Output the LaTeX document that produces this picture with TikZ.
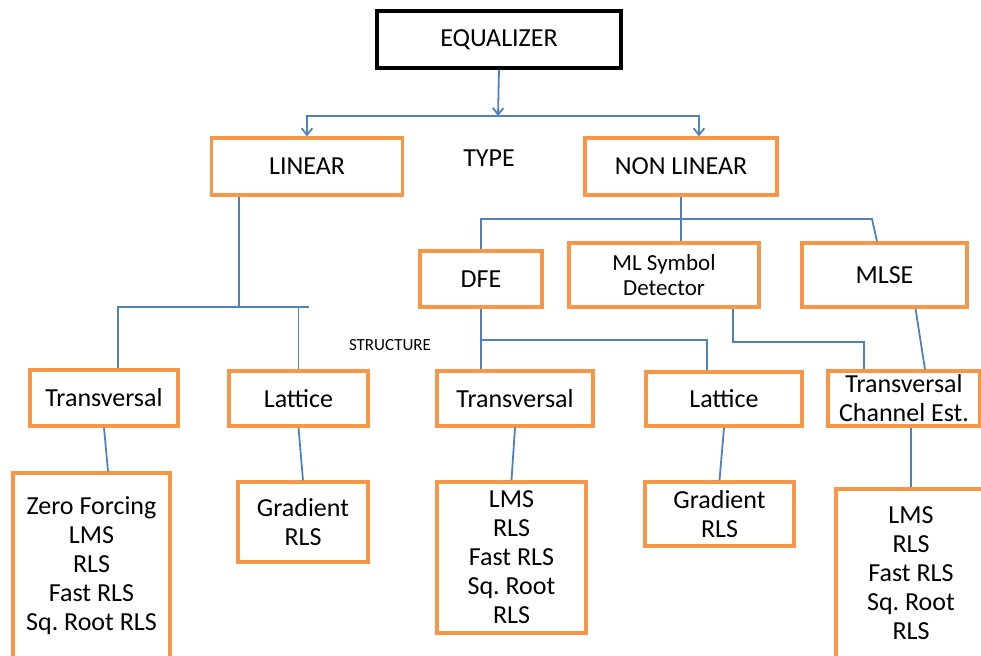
\documentclass[tikz,border=0pt]{standalone}
\usepackage{fontspec}
\setmainfont{Carlito}
\usetikzlibrary{arrows.meta,calc}
\definecolor{boxor}{HTML}{F79646}
\definecolor{lnblue}{HTML}{4F81BD}
\frenchspacing
\begin{document}
\begin{tikzpicture}[x=0.75pt,y=-0.75pt,
  boxn/.style={draw=boxor,line width=2.4pt,inner sep=0pt,align=center,font=\fontsize{19.5}{21.75}\selectfont},
  topbox/.style={boxn,draw=black},
  wh/.style 2 args={minimum width=#1*0.75pt,minimum height=#2*0.75pt},
  conn/.style={draw=lnblue,line width=1.35pt},
  arr/.style={conn,-{Straight Barb[length=5pt,width=8pt]}},
  lbl/.style={inner sep=0pt,font=\fontsize{19.5}{21.75}\selectfont}]
\useasboundingbox (0,0) rectangle (981,656);
% top levels
\node[topbox,wh={244}{57}] (eq) at (499,39.5) {EQUALIZER};
\node[boxn,wh={191}{57}] (lin) at (307,166.5) {LINEAR};
\node[lbl] (type) at (489,158) {TYPE};
\node[boxn,wh={192}{57}] (nonlin) at (681,166.5) {NON LINEAR};
\node[boxn,wh={122}{56}] (dfe) at (481,279) {DFE};
\node[boxn,wh={190}{64},font=\fontsize{17.25}{18.5}\selectfont] (mlsym) at (664,275) {ML Symbol\\Detector};
\node[boxn,wh={165}{64}] (mlse) at (884.5,275) {MLSE};
\node[lbl,font=\fontsize{12.75}{14}\selectfont] (struct) at (390,345) {STRUCTURE};
% structure level
\node[boxn,wh={148}{56}] (t1) at (104,398) {Transversal};
\node[boxn,wh={139}{55}] (l1) at (298.5,398.5) {Lattice};
\node[boxn,wh={156}{55}] (t2) at (515,398.5) {Transversal};
\node[boxn,wh={156}{54}] (l2) at (724,399) {Lattice};
\node[boxn,wh={152}{55}] (tc) at (904,398.5) {Transversal\\Channel Est.};
% algorithm level
\node[boxn,wh={157}{185}] (zf) at (91.5,565.5) {Zero Forcing\\LMS\\RLS\\Fast RLS\\Sq. Root RLS};
\node[boxn,wh={130}{80}] (g1) at (303,522) {Gradient\\RLS};
\node[boxn,wh={149}{151}] (a2) at (511.5,557.5) {LMS\\RLS\\Fast RLS\\Sq. Root\\RLS};
\node[boxn,wh={149}{64}] (g2) at (719.5,514) {Gradient\\RLS};
\node[boxn,wh={150}{169}] (a3) at (911,573.5) {LMS\\RLS\\Fast RLS\\Sq. Root\\RLS};
% connectors: type
\coordinate (j1) at (498,116);
\draw[arr] (eq.south) -- (j1);
\draw[arr] (j1) -| (lin.north);
\draw[arr] (j1) -| ($(nonlin.north)+(18,0)$);
% linear
\coordinate (j2) at (239,307);
\draw[conn] ($(lin.south)+(-68,0)$) -- (j2);
\draw[conn] (j2) -| ($(t1.north)+(14,0)$);
\draw[conn] (j2) -| (l1.north);
\coordinate (stub) at (309,307);
\draw[conn] (l1.north |- j2) -- (stub);
% non linear
\coordinate (j3) at (681,219);
\draw[conn] (nonlin.south) -- (nonlin.south |- mlsym.north);
\draw[conn] (j3) -| (dfe.north);
\draw[conn] (j3) -- (872,219) -- ($(mlse.north)+(-7.5,0)$);
% DFE
\coordinate (j4) at (481,340);
\draw[conn] (dfe.south) -- (dfe.south |- t2.north);
\draw[conn] (j4) -| ($(l2.north)+(-17,0)$);
% ML symbol / MLSE
\draw[conn] ($(mlsym.south)+(69,0)$) -- ++(0,33) -| ($(tc.north)+(-40,0)$);
\draw[conn] ($(mlse.south)+(31,0)$) -- ($(tc.north)+(21,0)$);
% lower
\draw[conn] (t1.south) -- ($(zf.north)+(16.5,0)$);
\draw[conn] (l1.south) -- (g1.north);
\draw[conn] (t2.south) -- (a2.north);
\draw[conn] (l2.south) -- (g2.north);
\draw[conn] (a3.north) -- (a3.north |- tc.south);
\end{tikzpicture}
\end{document}
